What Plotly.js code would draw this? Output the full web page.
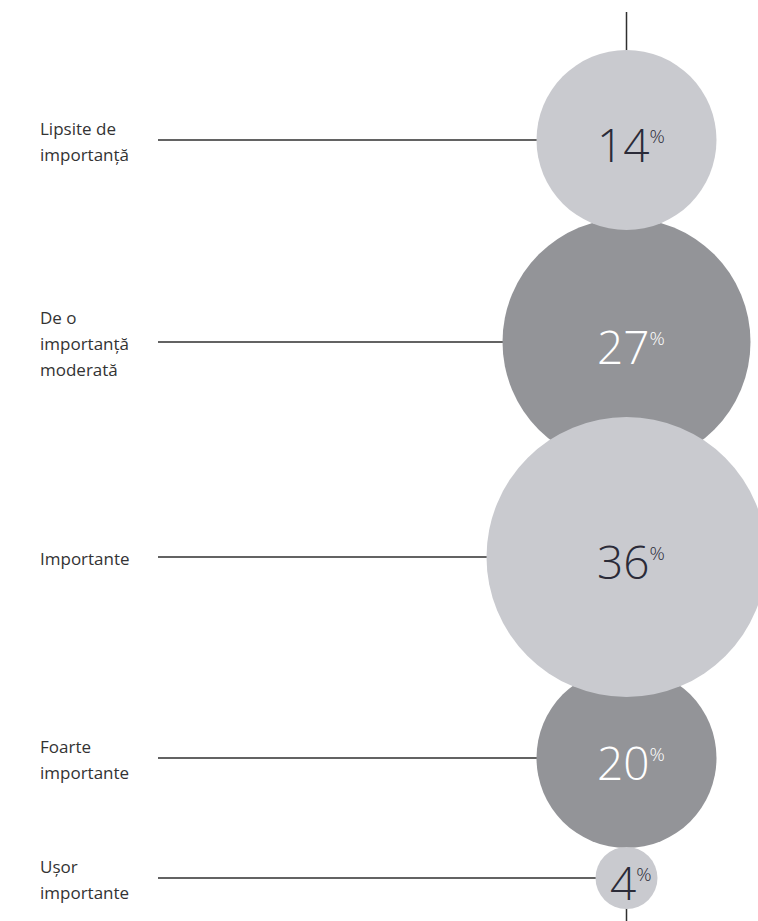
<!DOCTYPE html>
<html>
<head>
<meta charset="utf-8">
<script src="https://cdn.plot.ly/plotly-3.0.1.min.js"></script>
<style>
html,body{margin:0;padding:0;background:#fff;}
#chart{width:758px;height:921px;}
</style>
</head>
<body>
<div id="chart"></div>
<script>
// ---- data ----
const categories = ["Lipsite de<br>importanță", "De o<br>importanță<br>moderată", "Importante", "Foarte<br>importante", "Ușor<br>importante"];
const values = [14, 27, 36, 20, 4];

// ---- layout / style (positions in pixel space of the figure) ----
const centerY = [140, 342, 557, 758, 878];
const diameters = [180, 248, 280, 180, 62];
const shade = ["light", "dark", "light", "dark", "light"];
const centerX = 626.5;
const lineStartX = 158;
const labelRight = 128;
const lineGap = 26;
const labelFont = {family: "Open Sans, Noto Sans, sans-serif", size: 17, color: "#333333"};

const fillColor = {light: "#c9cacf", dark: "#939498"};
const textColor = {light: "#2b2b38", dark: "#ffffff"};

// measure widest label line so that labels are left-aligned and end before the leader lines
const cv = document.createElement("canvas").getContext("2d");
cv.font = labelFont.size + "px 'Open Sans'";
let maxW = 0;
categories.forEach(c => c.split("<br>").forEach(l => { maxW = Math.max(maxW, cv.measureText(l).width); }));
const labelX = labelRight - maxW;

function buildTrace(kind) {
  const idx = values.map((v, i) => i).filter(i => shade[i] === kind);
  return {
    type: "scatter",
    mode: "markers",
    x: idx.map(() => centerX),
    y: idx.map(i => centerY[i]),
    marker: {size: idx.map(i => diameters[i]), color: fillColor[kind], line: {width: 0}, opacity: 1},
    hoverinfo: "skip",
    cliponaxis: false,
    showlegend: false
  };
}

const traces = [buildTrace("dark"), buildTrace("light")];

const shapes = [{
  type: "line", xref: "x", yref: "y", x0: centerX, x1: centerX, y0: 12, y1: 921,
  line: {color: "#2f2f2f", width: 1.5}, layer: "below"
}];
centerY.forEach(y => {
  shapes.push({type: "line", xref: "x", yref: "y", x0: lineStartX, x1: centerX, y0: y, y1: y,
    line: {color: "#2f2f2f", width: 1.5}, layer: "below"});
});

const annotations = [];
categories.forEach((c, i) => {
  const lines = c.split("<br>");
  const n = lines.length;
  lines.forEach((ln, k) => {
    annotations.push({
      x: labelX, y: centerY[i] + (k - (n - 1) / 2) * lineGap + 1,
      xref: "x", yref: "y", xanchor: "left", yanchor: "middle",
      text: ln, showarrow: false, align: "left",
      font: labelFont
    });
  });
});
values.forEach((v, i) => {
  annotations.push({
    x: centerX + 4, y: centerY[i], xref: "x", yref: "y", xanchor: "center", yanchor: "middle",
    yshift: -4,
    text: v + "<sup><span style='font-size:19px'>%</span></sup>",
    showarrow: false,
    font: {family: "Open Sans, Lato, sans-serif", size: 46, color: textColor[shade[i]], weight: 300}
  });
});

const layout = {
  width: 758, height: 921,
  margin: {l: 0, r: 0, t: 0, b: 0, pad: 0},
  paper_bgcolor: "#ffffff", plot_bgcolor: "#ffffff",
  xaxis: {range: [0, 758], visible: false, fixedrange: true},
  yaxis: {range: [921, 0], visible: false, fixedrange: true},
  shapes: shapes,
  annotations: annotations,
  showlegend: false
};

Plotly.newPlot("chart", traces, layout, {displayModeBar: false, staticPlot: true});
</script>
</body>
</html>
